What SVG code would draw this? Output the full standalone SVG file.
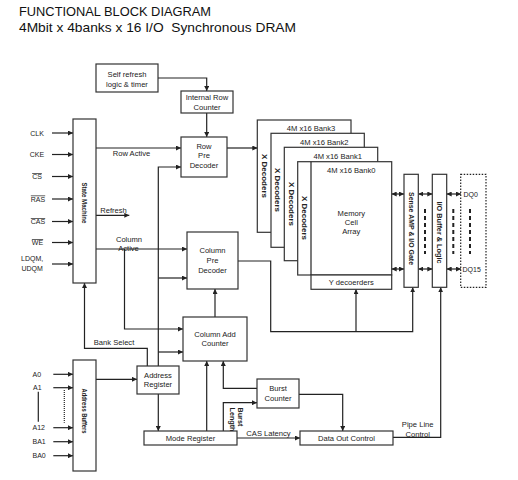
<svg xmlns="http://www.w3.org/2000/svg" width="518" height="480" viewBox="0 0 518 480">
<style>
.box{fill:#fff;stroke:#333;stroke-width:1.2}
.ln{fill:none;stroke:#222;stroke-width:1.2}
.a{marker-end:url(#ah)}
.d{marker-start:url(#ah);marker-end:url(#ah)}
.t{font-family:"Liberation Sans",Arial,sans-serif;font-size:7.6px;fill:#222;text-anchor:middle}
.p{font-family:"Liberation Sans",Arial,sans-serif;font-size:7px;fill:#222;text-anchor:middle}
.ps{font-family:"Liberation Sans",Arial,sans-serif;font-size:7px;fill:#222}
.ov{text-decoration:overline}
.r{font-family:"Liberation Sans",Arial,sans-serif;font-size:7.2px;font-weight:bold;fill:#222;text-anchor:middle}
.ttl{font-family:"Liberation Sans",Arial,sans-serif;font-size:13.5px;fill:#111}
.dash{fill:none;stroke:#222;stroke-width:2;stroke-dasharray:4,3}
</style>
<defs>
<marker id="ah" viewBox="0 0 6 6" refX="6" refY="3" markerWidth="5" markerHeight="5" markerUnits="userSpaceOnUse" orient="auto-start-reverse">
<path d="M0,0 L6,3 L0,6 z" fill="#222"/>
</marker>
</defs>
<rect width="518" height="480" fill="#fff"/>
<text class="ttl" x="19" y="15.5" textLength="192" lengthAdjust="spacingAndGlyphs">FUNCTIONAL BLOCK DIAGRAM</text>
<text class="ttl" x="19" y="31.5" textLength="277" lengthAdjust="spacingAndGlyphs" xml:space="preserve">4Mbit x 4banks x 16 I/O  Synchronous DRAM</text>

<g id="connectors">
<polyline class="ln a" points="158,78 206.7,78 206.7,91"/>
<line class="ln a" x1="206.7" y1="113" x2="206.7" y2="137"/>
<line class="ln a" x1="227" y1="148" x2="257.3" y2="148"/>
<line class="ln a" x1="52" y1="133" x2="73" y2="133"/>
<line class="ln a" x1="52" y1="154.5" x2="73" y2="154.5"/>
<line class="ln a" x1="52" y1="176.5" x2="73" y2="176.5"/>
<line class="ln a" x1="52" y1="199" x2="73" y2="199"/>
<line class="ln a" x1="52" y1="221.5" x2="73" y2="221.5"/>
<line class="ln a" x1="52" y1="242.5" x2="73" y2="242.5"/>
<line class="ln a" x1="52" y1="264" x2="73" y2="264"/>
<line class="ln a" x1="96" y1="148" x2="181" y2="148"/>
<polyline class="ln a" points="158.3,366 158.3,167 181,167"/>
<line class="ln a" x1="158.3" y1="278" x2="187" y2="278"/>
<line class="ln a" x1="158.3" y1="352" x2="183" y2="352"/>
<line class="ln a" x1="158.3" y1="394" x2="158.3" y2="431"/>
<line class="ln a" x1="96" y1="215.3" x2="129.3" y2="215.3"/>
<line class="ln a" x1="96" y1="249" x2="187" y2="249"/>
<polyline class="ln a" points="124.5,249 124.5,329 183,329"/>
<line class="ln a" x1="215" y1="317" x2="215" y2="289"/>
<line class="ln a" x1="206.7" y1="431" x2="206.7" y2="361"/>
<polyline class="ln a" points="257,388.3 223.3,388.3 223.3,361"/>
<polyline class="ln a" points="223.3,431 223.3,402.7 257,402.7"/>
<polyline class="ln a" points="299,394.3 342.7,394.3 342.7,431"/>
<line class="ln a" x1="237" y1="438" x2="300" y2="438"/>
<polyline class="ln a" points="393,437.3 440.7,437.3 440.7,287.3"/>
<polyline class="ln a" points="238,261 270.7,261 270.7,331.7 412.7,331.7 412.7,287.3"/>
<line class="ln a" x1="356" y1="331.7" x2="356" y2="289.3"/>
<polyline class="ln a" points="147.3,366 147.3,348.3 84.5,348.3 84.5,283"/>
<line class="ln a" x1="96" y1="379.3" x2="137" y2="379.3"/>
<line class="ln a" x1="53.3" y1="374.3" x2="73" y2="374.3"/>
<line class="ln a" x1="53.3" y1="387.7" x2="73" y2="387.7"/>
<line class="ln a" x1="53.3" y1="427.7" x2="73" y2="427.7"/>
<line class="ln a" x1="53.3" y1="441.7" x2="73" y2="441.7"/>
<line class="ln a" x1="53.3" y1="455.7" x2="73" y2="455.7"/>
<line class="ln" x1="38.3" y1="391.7" x2="38.3" y2="421.7"/>
<line x1="64.3" y1="390" x2="64.3" y2="422.7" stroke="#222" stroke-width="1.2" stroke-dasharray="1,1"/>
<line class="ln d" x1="391.7" y1="194" x2="404" y2="194"/>
<line class="ln d" x1="418.3" y1="194" x2="432.3" y2="194"/>
<line class="ln d" x1="446.7" y1="194" x2="461" y2="194"/>
<line class="ln d" x1="391.7" y1="269" x2="404" y2="269"/>
<line class="ln d" x1="418.3" y1="269" x2="432.3" y2="269"/>
<line class="ln d" x1="446.7" y1="269" x2="461" y2="269"/>
<line class="dash" x1="425" y1="209" x2="425" y2="254"/>
<line class="dash" x1="453.3" y1="209" x2="453.3" y2="254"/>
<line class="dash" x1="470" y1="209" x2="470" y2="254"/>
<text class="t" x="131.5" y="156">Row Active</text>
<text class="t" x="113.5" y="212.5">Refresh</text>
<text class="t" x="129" y="241.7">Column</text>
<text class="t" x="128.5" y="250.7">Active</text>
<text class="t" x="114" y="345.4" >Bank Select</text>
<text class="t" x="268.5" y="435.5">CAS Latency</text>
<text class="t" x="417.7" y="426.7">Pipe Line</text>
<text class="t" x="417.7" y="436.7">Control</text>
<g transform="translate(237.7,407.5) rotate(90)">
<text class="r" x="0" y="0" style="text-anchor:start">Burst</text>
<text class="r" x="0" y="8" style="text-anchor:start">Length</text>
</g>
</g>

<g id="pins">
<text class="p" x="37" y="135.5">CLK</text>
<text class="p" x="37" y="157">CKE</text>
<text class="p ov" x="37" y="179">CS</text>
<text class="p ov" x="38" y="201.5">RAS</text>
<text class="p ov" x="38" y="224">CAS</text>
<text class="p ov" x="37.5" y="245">WE</text>
<text class="ps" x="21" y="261">LDQM,</text>
<text class="ps" x="21.5" y="271">UDQM</text>
<text class="ps" x="32.5" y="376.8">A0</text>
<text class="ps" x="33" y="390.2">A1</text>
<text class="ps" x="32.5" y="430.2">A12</text>
<text class="ps" x="32.5" y="444.2">BA1</text>
<text class="ps" x="32.5" y="458.2">BA0</text>
</g>

<g id="self-refresh">
<rect class="box" x="96" y="64" width="62" height="28"/>
<text class="t" x="127" y="76.7">Self refresh</text>
<text class="t" x="127" y="86.7">logic &amp; timer</text>
</g>
<g id="internal-row-counter">
<rect class="box" x="181" y="91" width="52" height="22"/>
<text class="t" x="207" y="100.4">Internal Row</text>
<text class="t" x="207" y="110">Counter</text>
</g>
<g id="row-pre-decoder">
<rect class="box" x="181" y="137" width="46" height="40"/>
<text class="t" x="204" y="148.7">Row</text>
<text class="t" x="204" y="158.4">Pre</text>
<text class="t" x="204" y="167.7">Decoder</text>
</g>
<g id="state-machine">
<rect class="box" x="73" y="119" width="23" height="164"/>
<text class="r" transform="translate(84.5,203) rotate(90)" x="0" y="2.5" textLength="41" lengthAdjust="spacingAndGlyphs">State Machine</text>
</g>
<g id="column-pre-decoder">
<rect class="box" x="187" y="232" width="51" height="57"/>
<text class="t" x="212.5" y="253.4">Column</text>
<text class="t" x="212.5" y="263.4">Pre</text>
<text class="t" x="212.5" y="272.7">Decoder</text>
</g>
<g id="column-add-counter">
<rect class="box" x="183" y="317" width="64" height="44"/>
<text class="t" x="215" y="337">Column Add</text>
<text class="t" x="215" y="346">Counter</text>
</g>
<g id="address-register">
<rect class="box" x="137" y="366" width="42" height="28"/>
<text class="t" x="158" y="377.7">Address</text>
<text class="t" x="158" y="386.7">Register</text>
</g>
<g id="address-buffers">
<rect class="box" x="73" y="360" width="23" height="111"/>
<text class="r" transform="translate(84.5,411) rotate(90)" x="0" y="2.5" textLength="45" lengthAdjust="spacingAndGlyphs">Address Buffers</text>
</g>
<g id="mode-register">
<rect class="box" x="144" y="431" width="93" height="14"/>
<text class="t" x="190.5" y="440.5">Mode Register</text>
</g>
<g id="burst-counter">
<rect class="box" x="257" y="379" width="42" height="29"/>
<text class="t" x="278" y="391.4">Burst</text>
<text class="t" x="278" y="400.7">Counter</text>
</g>
<g id="data-out-control">
<rect class="box" x="300" y="431" width="93" height="14"/>
<text class="t" x="346.5" y="440.5">Data Out Control</text>
</g>

<g id="bank3">
<rect class="box" x="257.3" y="120" width="93.7" height="112.3"/>
<text class="t" x="311" y="131">4M x16 Bank3</text>
<text class="r" transform="translate(264.2,176) rotate(90)" x="0" y="2.5" textLength="44" lengthAdjust="spacingAndGlyphs">X Decoders</text>
</g>
<g id="bank2">
<rect class="box" x="271" y="133.3" width="93.3" height="114"/>
<text class="t" x="324.3" y="145">4M x16 Bank2</text>
<text class="r" transform="translate(277.7,190) rotate(90)" x="0" y="2.5" textLength="44" lengthAdjust="spacingAndGlyphs">X Decoders</text>
</g>
<g id="bank1">
<rect class="box" x="284.3" y="147.3" width="93.4" height="113.4"/>
<text class="t" x="337.7" y="158.7">4M x16 Bank1</text>
<text class="r" transform="translate(291,204) rotate(90)" x="0" y="2.5" textLength="44" lengthAdjust="spacingAndGlyphs">X Decoders</text>
</g>
<g id="bank0">
<rect class="box" x="297.7" y="161.7" width="94" height="113.3"/>
<line class="ln" x1="311" y1="161.7" x2="311" y2="275"/>
<text class="t" x="351.3" y="173.4">4M x16 Bank0</text>
<text class="r" transform="translate(304.3,218) rotate(90)" x="0" y="2.5" textLength="44" lengthAdjust="spacingAndGlyphs">X Decoders</text>
<text class="t" x="351.3" y="216">Memory</text>
<text class="t" x="351.3" y="225">Cell</text>
<text class="t" x="351.3" y="234.4">Array</text>
</g>
<g id="y-decoders">
<rect class="box" x="311" y="275" width="80.7" height="14.3"/>
<text class="t" x="351.3" y="285">Y decoerders</text>
</g>
<g id="sense-amp">
<rect class="box" x="404" y="174.3" width="14.3" height="113"/>
<text class="r" transform="translate(411.2,228.5) rotate(90)" x="0" y="2.5" textLength="73" lengthAdjust="spacingAndGlyphs">Sense AMP &amp; I/O Gate</text>
</g>
<g id="io-buffer">
<rect class="box" x="432.3" y="174.3" width="14.4" height="113"/>
<text class="r" transform="translate(439.5,232.5) rotate(90)" x="0" y="2.5" textLength="62" lengthAdjust="spacingAndGlyphs">I/O Buffer &amp; Logic</text>
</g>
<g id="dq">
<rect x="460.7" y="174.3" width="25.3" height="113" fill="none" stroke="#222" stroke-width="1.2" stroke-dasharray="1.5,1.5"/>
<text class="ps" x="463.5" y="196.7">DQ0</text>
<text class="ps" x="462.5" y="271.7">DQ15</text>
</g>
</svg>
